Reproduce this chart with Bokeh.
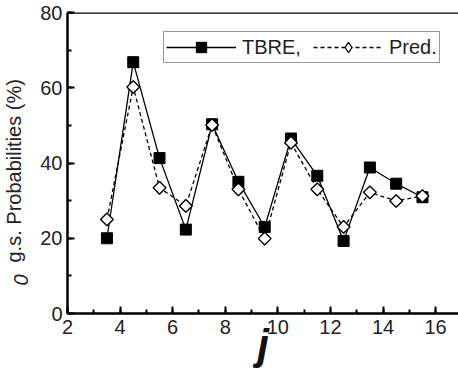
import math
from bokeh.plotting import figure
from bokeh.models import Range1d, Label, Span, Legend, SingleIntervalTicker
from bokeh.embed import file_html
from bokeh.resources import INLINE

j_values = [3.5, 4.5, 5.5, 6.5, 7.5, 8.5, 9.5, 10.5, 11.5, 12.5, 13.5, 14.5, 15.5]
tbre = [20.0, 66.8, 41.3, 22.3, 50.3, 35.0, 23.0, 46.5, 36.6, 19.3, 38.8, 34.5, 30.9]
pred = [25.0, 60.2, 33.4, 28.6, 50.1, 33.0, 19.9, 45.4, 33.0, 23.0, 32.2, 29.9, 31.2]

FONT = "Liberation Sans"

p = figure(width=458, height=375, output_backend="svg", toolbar_location=None,
           x_range=Range1d(2, 16.87), y_range=Range1d(0, 80),
           min_border_left=67, min_border_right=0, min_border_top=12, min_border_bottom=62)
p.outline_line_color = None
p.xgrid.visible = False
p.ygrid.visible = False
p.background_fill_color = "white"

l1 = p.line(j_values, tbre, line_color="black", line_width=1.3)
s1 = p.scatter(j_values, tbre, marker="square", size=11, fill_color="black", line_color="black")
l2 = p.line(j_values, pred, line_color="black", line_width=1.3, line_dash="4 3")
s2 = p.scatter(j_values, pred, marker="square", angle=math.pi / 4, size=9,
               fill_color="white", line_color="black", line_width=1.4)

# hidden renderer used only for the legend's diamond symbol
k2 = p.scatter(j_values, pred, marker="diamond", fill_color="white", line_color="black",
               line_width=1.3, visible=False)

for ax in (p.xaxis[0], p.yaxis[0]):
    ax.axis_line_width = 2.5
    ax.axis_line_color = "black"
    ax.major_tick_in = 7
    ax.major_tick_out = 0
    ax.minor_tick_in = 4
    ax.minor_tick_out = 0
    ax.major_tick_line_width = 2
    ax.minor_tick_line_width = 2
    ax.major_label_text_font = FONT
    ax.major_label_text_font_size = "20px"
    ax.major_label_text_color = "#222222"
    ax.major_label_standoff = 6

p.xaxis.ticker = SingleIntervalTicker(interval=2, num_minor_ticks=2)
p.yaxis.ticker = SingleIntervalTicker(interval=20, num_minor_ticks=2)
p.yaxis.major_label_standoff = 5

p.xaxis.axis_label = "j"
p.xaxis.axis_label_text_font = FONT
p.xaxis.axis_label_text_font_size = "42px"
p.xaxis.axis_label_text_font_style = "bold italic"
p.xaxis.axis_label_text_color = "#111111"
p.xaxis.axis_label_standoff = -16

top_line = Span(location=80, dimension="width", line_color="black", line_width=2.5)
p.add_layout(top_line)

legend = Legend(items=[("TBRE,", [l1, s1]), ("Pred.", [l2, k2])],
                orientation="horizontal", location=(96, 250), margin=0,
                padding=2, spacing=12, label_standoff=6,
                glyph_width=70, glyph_height=26,
                label_text_font=FONT, label_text_font_size="20px",
                label_text_color="#222222",
                border_line_color="#333333", border_line_width=1.5,
                background_fill_color="white", background_fill_alpha=1,
                inactive_fill_alpha=0)
p.add_layout(legend, "center")

ylab0 = Label(x=-3, y=28, x_units="screen", y_units="screen", text="0", angle=math.pi / 2,
              text_font=FONT, text_font_size="20px", text_font_style="italic",
              text_align="left", text_baseline="middle", text_color="#222222")
ylab1 = Label(x=12, y=51, x_units="screen", y_units="screen", text="g.s. Probabilities (%)",
              angle=math.pi / 2, text_font=FONT, text_font_size="20px",
              text_align="left", text_baseline="middle", text_color="#222222")
p.add_layout(ylab0, "left")
p.add_layout(ylab1, "left")

open("out.html", "w").write(file_html(p, INLINE))
